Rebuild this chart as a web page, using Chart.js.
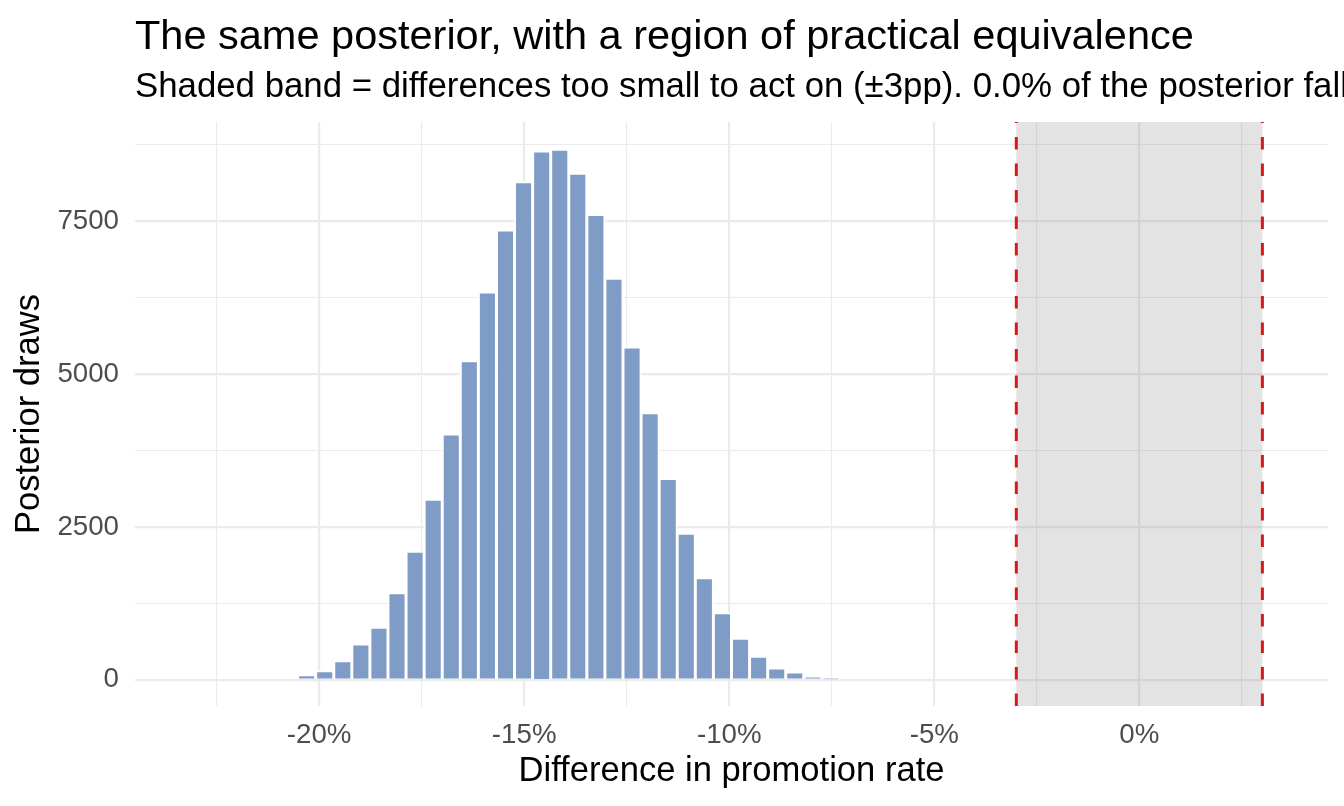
<!DOCTYPE html>
<html>
<head>
<meta charset="utf-8">
<title>ROPE posterior</title>
<script src="https://cdn.jsdelivr.net/npm/chart.js@4.4.1/dist/chart.umd.min.js"></script>
<style>
  html, body { margin: 0; padding: 0; background: #fff; overflow: hidden; }
  #wrap { position: relative; width: 1344px; height: 806px; overflow: hidden; }
  .ttl { position: absolute; left: 135px; white-space: nowrap; color: #000;
         font-family: "Liberation Sans", Arial, Helvetica, sans-serif; }
  #title { top: 14px; font-size: 41.5px; line-height: 41.5px; }
  #subtitle { top: 68px; font-size: 34.8px; line-height: 34.8px; }
  #graph_data { position: absolute; left: 0; top: 0; }
</style>
</head>
<body>
<div id="wrap">
  <canvas id="graph_data" width="1344" height="806"></canvas>
  <div id="title" class="ttl">The same posterior, with a region of practical equivalence</div>
  <div id="subtitle" class="ttl">Shaded band = differences too small to act on (±3pp). 0.0% of the posterior falls inside it.</div>
</div>
<script>
// histogram bins (centre of each bin, in percentage points)
var binCenters = [
    -22.950, -22.509, -22.068, -21.627, -21.187, -20.746, -20.305, -19.864, -19.423, -18.983,
    -18.542, -18.101, -17.660, -17.219, -16.778, -16.338, -15.897, -15.456, -15.015, -14.574,
    -14.133, -13.693, -13.252, -12.811, -12.370, -11.929, -11.488, -11.048, -10.607, -10.166,
    -9.725, -9.284, -8.843, -8.403, -7.962, -7.521, -7.080, -6.639, -6.198, -5.758,
    -5.317, -4.876, -4.435, -3.994, -3.553, -3.113, -2.672, -2.231, -1.790, -1.349,
    -0.908, -0.468, -0.027, 0.414, 0.855, 1.296, 1.737, 2.177, 2.618, 3.059
];
// posterior draws per bin
var drawCounts = [
    0, 0, 0, 0, 0, 0, 80, 147, 309, 582,
    860, 1424, 2103, 2951, 4018, 5218, 6345, 7357, 8145, 8648,
    8678, 8284, 7611, 6569, 5442, 4369, 3291, 2394, 1667, 1097,
    679, 382, 190, 125, 40, 5, 0, 0, 0, 0,
    0, 0, 0, 0, 0, 0, 0, 0, 0, 0,
    0, 0, 0, 0, 0, 0, 0, 0, 0, 0
];
var ropeLimits = [-3, 3];
var xGridValues = [-22.5, -20, -17.5, -15, -12.5, -10, -7.5, -5, -2.5, 0, 2.5];
var xLabelValues = [-20, -15, -10, -5, 0];
var yGridValues = [0, 1250, 2500, 3750, 5000, 6250, 7500, 8750];
var yLabelValues = [0, 2500, 5000, 7500];

var fontFam = '"Liberation Sans", Arial, Helvetica, sans-serif';

function gridWidth(labels){
    return function(ctx){
        if(ctx.tick && labels.indexOf(ctx.tick.value) >= 0){
            return 2.2;
        }
        return 1.1;
    };
}

// grey band + dashed red limits
var ropeBand = {
    id: 'ropeBand',
    beforeDatasetsDraw: function(chart){
        var ctx = chart.ctx, area = chart.chartArea, x = chart.scales.x;
        var x0 = x.getPixelForValue(ropeLimits[0]);
        var x1 = x.getPixelForValue(ropeLimits[1]);
        ctx.save();
        ctx.fillStyle = 'rgba(115,115,115,0.2)';
        ctx.fillRect(x0, area.top, x1 - x0, area.bottom - area.top);
        ctx.restore();
    },
    afterDatasetsDraw: function(chart){
        var ctx = chart.ctx, area = chart.chartArea, x = chart.scales.x;
        ctx.save();
        ctx.strokeStyle = '#D7191C';
        ctx.lineWidth = 3;
        ctx.setLineDash([12.5, 14]);
        ropeLimits.forEach(function(v){
            var px = x.getPixelForValue(v);
            ctx.beginPath();
            ctx.moveTo(px, area.bottom);
            ctx.lineTo(px, area.top);
            ctx.stroke();
        });
        ctx.restore();
    }
};

function graph(){
    var points = [];
    for(var i = 0; i < binCenters.length; i++){
        points.push({x: binCenters[i], y: drawCounts[i]});
    }

    var data = {
        datasets: [{
            data: points,
            backgroundColor: '#7F9CC7',
            borderColor: '#FFFFFF',
            borderWidth: 1.8,
            borderSkipped: 'start',
            barPercentage: 1,
            categoryPercentage: 1
        }]
    };

    var bar = {
        type: 'bar',
        data: data,
        options: {
            responsive: false,
            animation: false,
            layout: {
                padding: {top: 122, right: 16, left: 0, bottom: 0}
            },
            plugins: {
                legend: {display: false},
                tooltip: {enabled: false},
                title: {display: false}
            },
            scales: {
                x: {
                    type: 'linear',
                    offset: false,
                    min: -24.49,
                    max: 4.6,
                    afterBuildTicks: function(scale){
                        scale.ticks = xGridValues.map(function(v){ return {value: v}; });
                    },
                    afterFit: function(scale){ scale.height = 100; },
                    grid: {
                        offset: false,
                        color: '#EBEBEB',
                        lineWidth: gridWidth(xLabelValues),
                        drawTicks: false
                    },
                    border: {display: false},
                    ticks: {
                        autoSkip: false,
                        maxRotation: 0,
                        padding: 13,
                        color: '#4D4D4D',
                        font: {family: fontFam, size: 27.7, lineHeight: 1.2},
                        callback: function(value){
                            return xLabelValues.indexOf(value) >= 0 ? value + '%' : '';
                        }
                    },
                    title: {
                        display: true,
                        text: 'Difference in promotion rate',
                        color: '#000000',
                        padding: {top: 0, bottom: 13.5},
                        font: {family: fontFam, size: 34.6, lineHeight: 1.2}
                    }
                },
                y: {
                    min: -430,
                    max: 9125,
                    afterBuildTicks: function(scale){
                        scale.ticks = yGridValues.map(function(v){ return {value: v}; });
                    },
                    afterFit: function(scale){ scale.width = 135; },
                    grid: {
                        color: '#EBEBEB',
                        lineWidth: gridWidth(yLabelValues),
                        drawTicks: false
                    },
                    border: {display: false},
                    ticks: {
                        autoSkip: false,
                        padding: 16,
                        color: '#4D4D4D',
                        font: {family: fontFam, size: 27.7, lineHeight: 1.2},
                        callback: function(value){
                            return yLabelValues.indexOf(value) >= 0 ? String(value) : '';
                        }
                    },
                    title: {
                        display: true,
                        text: 'Posterior draws',
                        color: '#000000',
                        padding: {top: 9, bottom: 0},
                        font: {family: fontFam, size: 34.6, lineHeight: 1.2}
                    }
                }
            }
        },
        plugins: [ropeBand]
    };

    var chart = new Chart(document.getElementById('graph_data'), bar);
}

graph();
</script>
</body>
</html>
